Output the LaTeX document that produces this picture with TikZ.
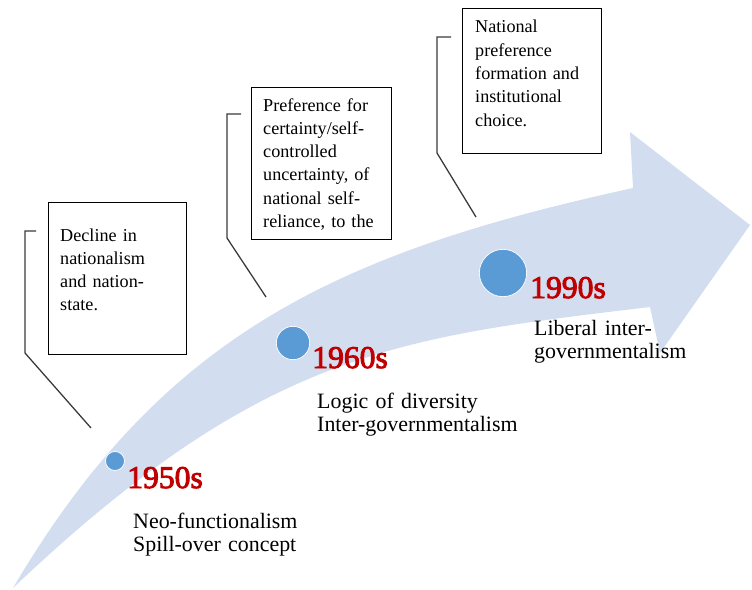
\documentclass[tikz,border=0pt]{standalone}
\usepackage{fontspec}
\setmainfont{Liberation Serif}
\newfontfamily\yearfont{Liberation Serif}[FakeBold=3]
\definecolor{bandblue}{HTML}{D2DEEF}
\definecolor{dotblue}{HTML}{5B9BD5}
\definecolor{yearred}{HTML}{C00000}
\definecolor{leadgray}{HTML}{3A3A3A}
\begin{document}
\begin{tikzpicture}[x=0.03cm, y=-0.03cm,
    dot/.style={circle, fill=dotblue, draw=white, line width=0.6pt, inner sep=0pt},
    year/.style={anchor=base west, inner sep=0pt, text=yearred, font=\yearfont\fontsize{27}{30}\selectfont},
    desc/.style={anchor=base west, inner sep=0pt, text width=8cm, align=left, font=\fontsize{18.7}{20}\selectfont},
    callbox/.style={draw, line width=0.9pt, anchor=north west, inner sep=0pt},
    note/.style={anchor=base west, inner sep=0pt, text width=4.6cm, align=left, font=\fontsize{15.5}{19.9}\selectfont},
    lead/.style={draw=leadgray, line width=1.1pt}]

    \useasboundingbox (0,0) rectangle (752,590);

    % curved arrow
    \fill[bandblue] (13,588) .. controls (163,333) and (340,252) .. (633,188)
        -- (630,132) -- (750,225) -- (660,353) -- (650,307)
        .. controls (400,337) and (263,350.5) .. (13,588) -- cycle;

    % boxes
    \node[callbox, minimum width=4.14cm, minimum height=4.56cm] (box1) at (48,202) {};
    \node[callbox, minimum width=4.2cm, minimum height=4.56cm] (box2) at (251,87) {};
    \node[callbox, minimum width=4.17cm, minimum height=4.35cm] (box3) at (462,8) {};

    \node[note] (note1) at (60,241) {Decline in\\nationalism\\and nation-\\state.};
    \node[note] (note2) at (263,111) {Preference for\\certainty/self-\\controlled\\uncertainty, of\\national self-\\reliance, to the};
    \node[note] (note3) at (475,33) {National\\preference\\formation and\\institutional\\choice.};

    % leader lines
    \coordinate (k1a) at (36,231);
    \coordinate (k1b) at (25,231);
    \coordinate (k1c) at (25,353);
    \coordinate (k1d) at (91,428);
    \coordinate (k2a) at (241,114);
    \coordinate (k2b) at (227,114);
    \coordinate (k2c) at (227,238);
    \coordinate (k2d) at (266,297);
    \coordinate (k3a) at (451,37);
    \coordinate (k3b) at (437,37);
    \coordinate (k3c) at (437,153);
    \coordinate (k3d) at (476,217);

    \draw[lead] (k1a) -- (k1b) -- (k1c) -- (k1d);
    \draw[lead] (k2a) -- (k2b) -- (k2c) -- (k2d);
    \draw[lead] (k3a) -- (k3b) -- (k3c) -- (k3d);

    % milestones
    \node[dot, minimum size=0.57cm] (d50) at (115,461) {};
    \node[dot, minimum size=1.0cm] (d60) at (293,343) {};
    \node[dot, minimum size=1.42cm] (d90) at (503,273) {};

    \node[year] (y50) at (127,488) {1950s};
    \node[year] (y60) at (312,368) {1960s};
    \node[year] (y90) at (530,298) {1990s};

    \node[desc] (t50) at (133,528) {Neo-functionalism\\Spill-over concept};
    \node[desc] (t60) at (317,408) {Logic of diversity\\Inter-governmentalism};
    \node[desc, text width=6cm] (t90) at (534,335) {Liberal inter-\\governmentalism};
\end{tikzpicture}
\end{document}
